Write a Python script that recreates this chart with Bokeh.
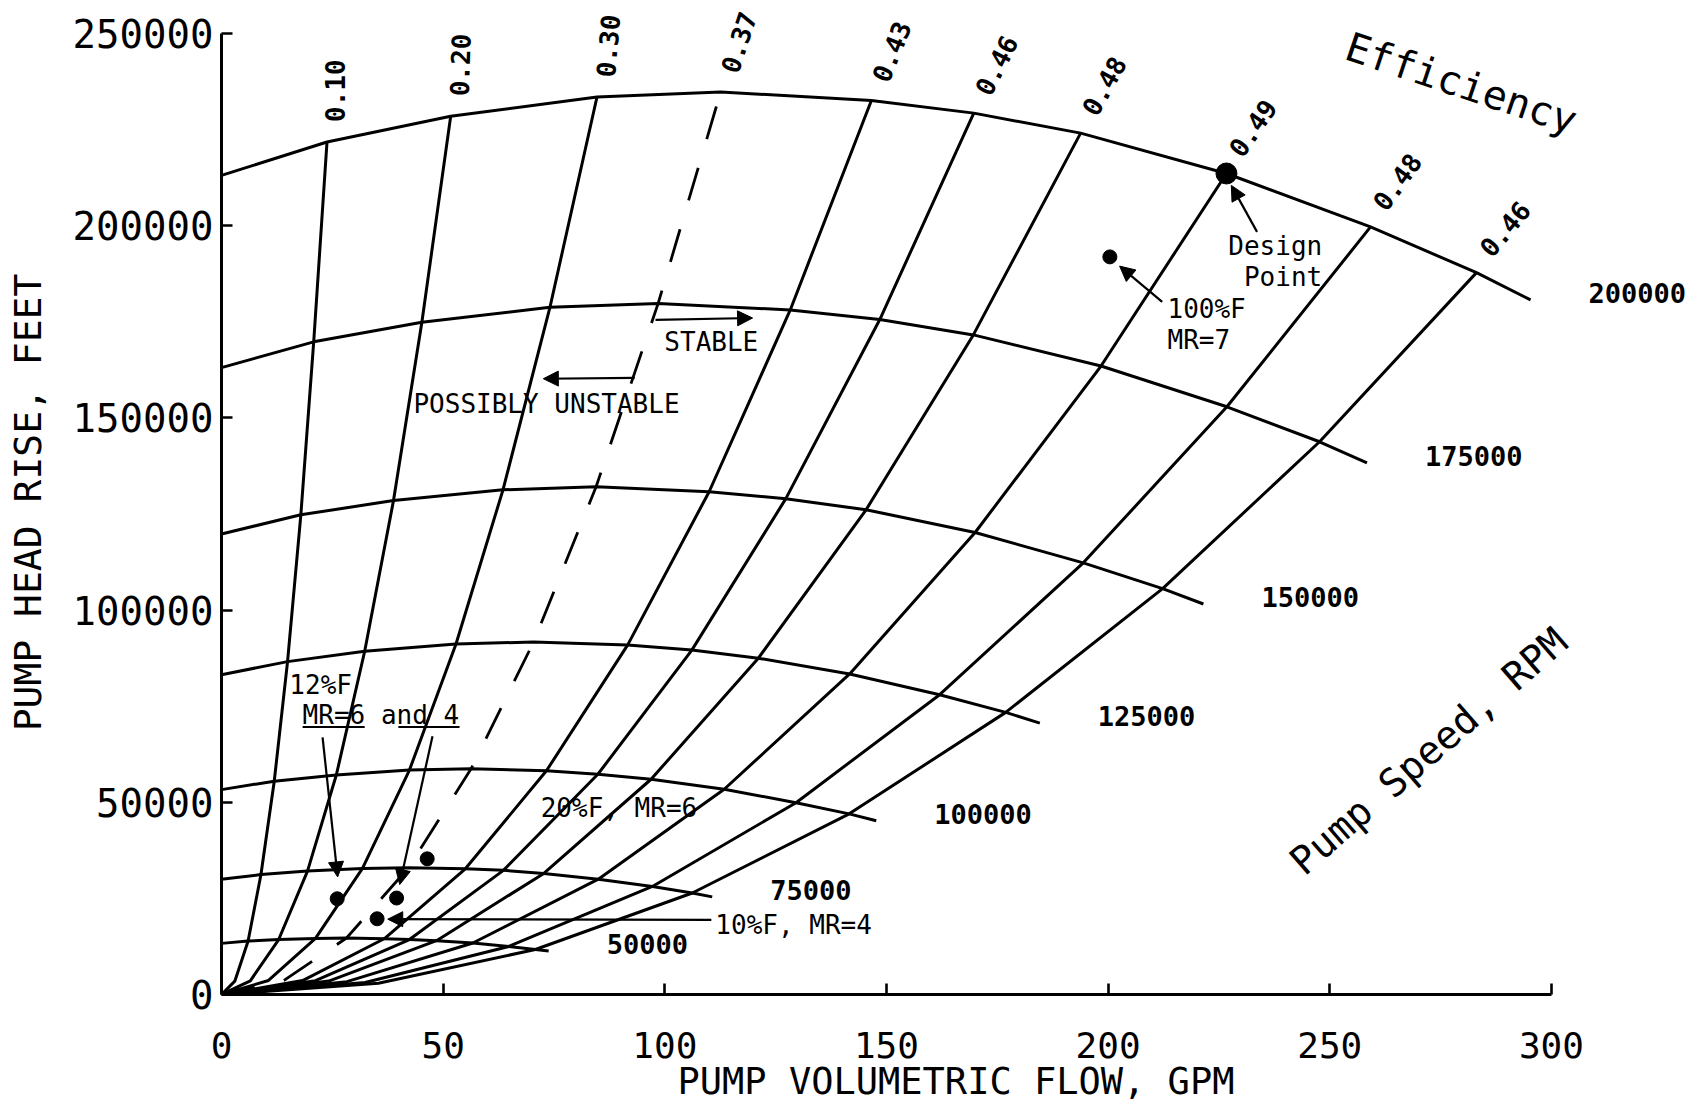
import math
from bokeh.plotting import figure
from bokeh.models import Range1d, FixedTicker, Arrow, NormalHead
from bokeh.core.properties import value
from bokeh.embed import file_html
from bokeh.resources import INLINE

# ---------------- data ----------------
speeds_rpm = [50000, 75000, 100000, 125000, 150000, 175000, 200000]
speed_labels = ["50000", "75000", "100000", "125000", "150000", "175000", "200000"]
eff_labels = ["0.10", "0.20", "0.30", "0.37", "0.43", "0.46", "0.48", "0.49", "0.48", "0.46"]

# constant-speed lines: shut-off head, crossings of the ten efficiency lines, end point
# flow in GPM, head in thousands of feet
flow_50k = [0, 6.0, 12.9, 21.2, 28.2, 36.7, 42.4, 48.5, 56.7, 64.8, 70.8, 73.8]
head_50k = [13.3, 13.9, 14.3, 14.6, 14.7, 14.5, 14.3, 14.0, 13.4, 12.5, 11.7, 11.3]
flow_75k = [0, 8.9, 19.4, 31.8, 42.2, 55.0, 63.6, 72.7, 85.0, 97.2, 106.2, 110.7]
head_75k = [30.0, 31.2, 32.1, 32.8, 33.0, 32.7, 32.3, 31.5, 30.0, 28.1, 26.4, 25.4]
flow_100k = [0, 11.9, 25.9, 42.4, 56.3, 73.3, 84.9, 96.9, 113.4, 129.6, 141.6, 147.7]
head_100k = [53.3, 55.5, 57.1, 58.4, 58.7, 58.2, 57.3, 56.0, 53.4, 49.9, 47.0, 45.2]
flow_125k = [0, 14.9, 32.3, 52.9, 70.4, 91.6, 106.1, 121.1, 141.7, 162.0, 176.9, 184.6]
head_125k = [83.2, 86.6, 89.3, 91.2, 91.7, 90.9, 89.6, 87.5, 83.4, 78.0, 73.4, 70.6]
flow_150k = [0, 17.9, 38.8, 63.5, 84.5, 110.0, 127.3, 145.4, 170.0, 194.4, 212.3, 221.5]
head_150k = [119.8, 124.8, 128.5, 131.3, 132.1, 130.8, 129.0, 126.1, 120.2, 112.3, 105.6, 101.6]
flow_175k = [0, 20.8, 45.2, 74.1, 98.5, 128.3, 148.5, 169.6, 198.4, 226.8, 247.7, 258.4]
head_175k = [163.1, 169.8, 174.9, 178.8, 179.8, 178.1, 175.6, 171.6, 163.5, 152.9, 143.8, 138.3]
flow_200k = [0, 23.8, 51.7, 84.7, 112.6, 146.6, 169.7, 193.8, 226.7, 259.2, 283.1, 295.3]
head_200k = [213.1, 221.8, 228.5, 233.5, 234.8, 232.6, 229.3, 224.1, 213.6, 199.7, 187.8, 180.7]

# efficiency lines leave the origin through these low-flow points
flow_low = [3.0, 6.5, 10.6, 14.1, 18.3, 21.2, 24.2, 28.3, 32.4, 35.4]
head_low = [3.47, 3.57, 3.65, 3.67, 3.63, 3.58, 3.50, 3.34, 3.12, 2.93]

# operating points (flow GPM, head kft)
op_flow = [200.4, 26.1, 39.5, 35.1, 46.4]
op_head = [191.9, 24.9, 25.1, 19.7, 35.3]
design_flow = [226.7]
design_head = [213.6]

x_ticks = [0, 50, 100, 150, 200, 250, 300]
y_ticks = [0, 50000, 100000, 150000, 200000, 250000]

# ---------------- layout ----------------
W, H = 1690, 1105
LEFT, RIGHT, TOP, BOTTOM = 221, 0, 10, 109
PXX = 4.433                                   # px per GPM
X0 = 0
X1 = (W - LEFT - RIGHT) / PXX
Y0 = 0
Y1 = 256000
PXY = (H - TOP - BOTTOM) / (Y1 - Y0)          # px per foot

FONT = value("DejaVu Sans Mono")
INK = "black"

p = figure(width=W, height=H, x_range=Range1d(X0, X1), y_range=Range1d(Y0, Y1),
           output_backend="svg", toolbar_location=None,
           min_border_left=LEFT, min_border_right=RIGHT,
           min_border_top=TOP, min_border_bottom=BOTTOM)
p.outline_line_color = None
p.xgrid.visible = False
p.ygrid.visible = False
p.background_fill_color = "white"
p.border_fill_color = "white"

for ax, ticks, bnds in ((p.xaxis[0], x_ticks, (0, 300)), (p.yaxis[0], y_ticks, (0, 250000))):
    ax.ticker = FixedTicker(ticks=ticks)
    ax.bounds = bnds
    ax.major_label_overrides = {t: str(t) for t in ticks}
    ax.axis_line_width = 3
    ax.axis_line_color = INK
    ax.major_tick_line_width = 2.6
    ax.major_tick_line_color = INK
    ax.major_tick_in = 11
    ax.major_tick_out = 0
    ax.minor_tick_in = 0
    ax.minor_tick_out = 0
    ax.major_label_text_font = "DejaVu Sans Mono"
    ax.major_label_text_color = INK
    ax.axis_label_text_font = "DejaVu Sans Mono"
    ax.axis_label_text_font_style = "normal"
    ax.axis_label_text_color = INK

p.xaxis.axis_label = "PUMP VOLUMETRIC FLOW, GPM"
p.xaxis.major_label_text_font_size = "36px"
p.xaxis.major_label_standoff = 37
p.xaxis.axis_label_text_font_size = "37px"
p.xaxis.axis_label_standoff = -1

p.yaxis.axis_label = "PUMP HEAD RISE, FEET"
p.yaxis.major_label_text_font_size = "39px"
p.yaxis.major_label_standoff = 8
p.yaxis.axis_label_text_font_size = "38px"
p.yaxis.axis_label_standoff = 20

flows = [flow_50k, flow_75k, flow_100k, flow_125k, flow_150k, flow_175k, flow_200k]
heads = [[h * 1000 for h in hs] for hs in [head_50k, head_75k, head_100k, head_125k,
                                            head_150k, head_175k, head_200k]]
low_heads = [h * 1000 for h in head_low]

# constant-speed lines
for fq, hd in zip(flows, heads):
    p.line(fq, hd, line_color=INK, line_width=3)

# constant-efficiency lines
for j, lab in enumerate(eff_labels):
    xs = [0, flow_low[j]] + [fq[j + 1] for fq in flows]
    ys = [0, low_heads[j]] + [hd[j + 1] for hd in heads]
    if lab == "0.37":
        p.line(xs, ys, line_color=INK, line_width=2.8, line_dash="34 30")
    else:
        p.line(xs, ys, line_color=INK, line_width=3)

# efficiency labels at the top ends
eff_angles_deg = [90, 88, 85, 72, 68, 63, 61, 55, 54, 50]
lx, ly, la = [], [], []
for j in range(len(eff_labels)):
    lx.append(flow_200k[j + 1] + 8 / PXX)
    ly.append(heads[-1][j + 1] + 20 / PXY)
    la.append(math.radians(eff_angles_deg[j]))
p.text(x=lx, y=ly, text=eff_labels, angle=la, text_font=FONT, text_font_size="26px",
       text_font_style="bold", text_align="left", text_baseline="middle", text_color=INK)

# speed labels beyond the curve ends
sx = [fq[-1] + 58 / PXX for fq in flows]
sy = [hd[-1] + 7 / PXY for hd in heads]
p.text(x=sx, y=sy, text=speed_labels, text_font=FONT, text_font_size="27px",
       text_font_style="bold", text_align="left", text_baseline="middle", text_color=INK)

# curved family titles
p.text(x=[279.7], y=[237000], text=["Efficiency"], angle=[math.radians(-18.5)],
       text_font=FONT, text_font_size="40px", text_align="center",
       text_baseline="middle", text_color=INK)
p.text(x=[272.3], y=[63300], text=["Pump Speed, RPM"], angle=[math.radians(41)],
       text_font=FONT, text_font_size="39px", text_align="center",
       text_baseline="middle", text_color=INK)

# operating points
p.scatter(op_flow, [h * 1000 for h in op_head], size=14, color=INK)
p.scatter(design_flow, [h * 1000 for h in design_head], size=21, color=INK)

# annotation texts
ann_left = [
    ("STABLE", 99.9, 169.8),
    ("POSSIBLY UNSTABLE", 43.3, 153.7),
    ("100%F", 213.4, 178.3),
    ("MR=7", 213.4, 170.3),
    ("12%F", 15.3, 80.5),
    ("MR=6 and 4", 18.3, 72.7),
    ("20%F, MR=6", 72.0, 48.5),
    ("10%F, MR=4", 111.4, 18.2),
]
p.text(x=[a[1] for a in ann_left], y=[a[2] * 1000 for a in ann_left],
       text=[a[0] for a in ann_left], text_font=FONT, text_font_size="26px",
       text_align="left", text_baseline="middle", text_color=INK)
ann_right = [("Design", 248.3, 194.7), ("Point", 248.3, 186.7)]
p.text(x=[a[1] for a in ann_right], y=[a[2] * 1000 for a in ann_right],
       text=[a[0] for a in ann_right], text_font=FONT, text_font_size="26px",
       text_align="right", text_baseline="middle", text_color=INK)

# underlines in "MR=6 and 4"
p.segment(x0=[18.3, 39.9], y0=[69600, 69600], x1=[32.3, 53.7], y1=[69600, 69600],
          line_color=INK, line_width=2)

# arrows
arrows = [
    (97.9, 175.5, 119.8, 176.0),
    (93.2, 160.4, 72.6, 160.2),
    (233.6, 198.4, 227.8, 210.5),
    (212.2, 180.2, 202.6, 189.5),
    (22.8, 66.9, 26.2, 30.6),
    (47.6, 67.2, 40.2, 28.6),
    (110.5, 19.4, 37.5, 19.6),
]
for x0, y0, x1, y1 in arrows:
    p.add_layout(Arrow(end=NormalHead(size=15, fill_color=INK, line_color=INK, line_width=1),
                       x_start=x0, y_start=y0 * 1000, x_end=x1, y_end=y1 * 1000,
                       line_color=INK, line_width=2.2))

open("out.html", "w").write(file_html(p, INLINE))
